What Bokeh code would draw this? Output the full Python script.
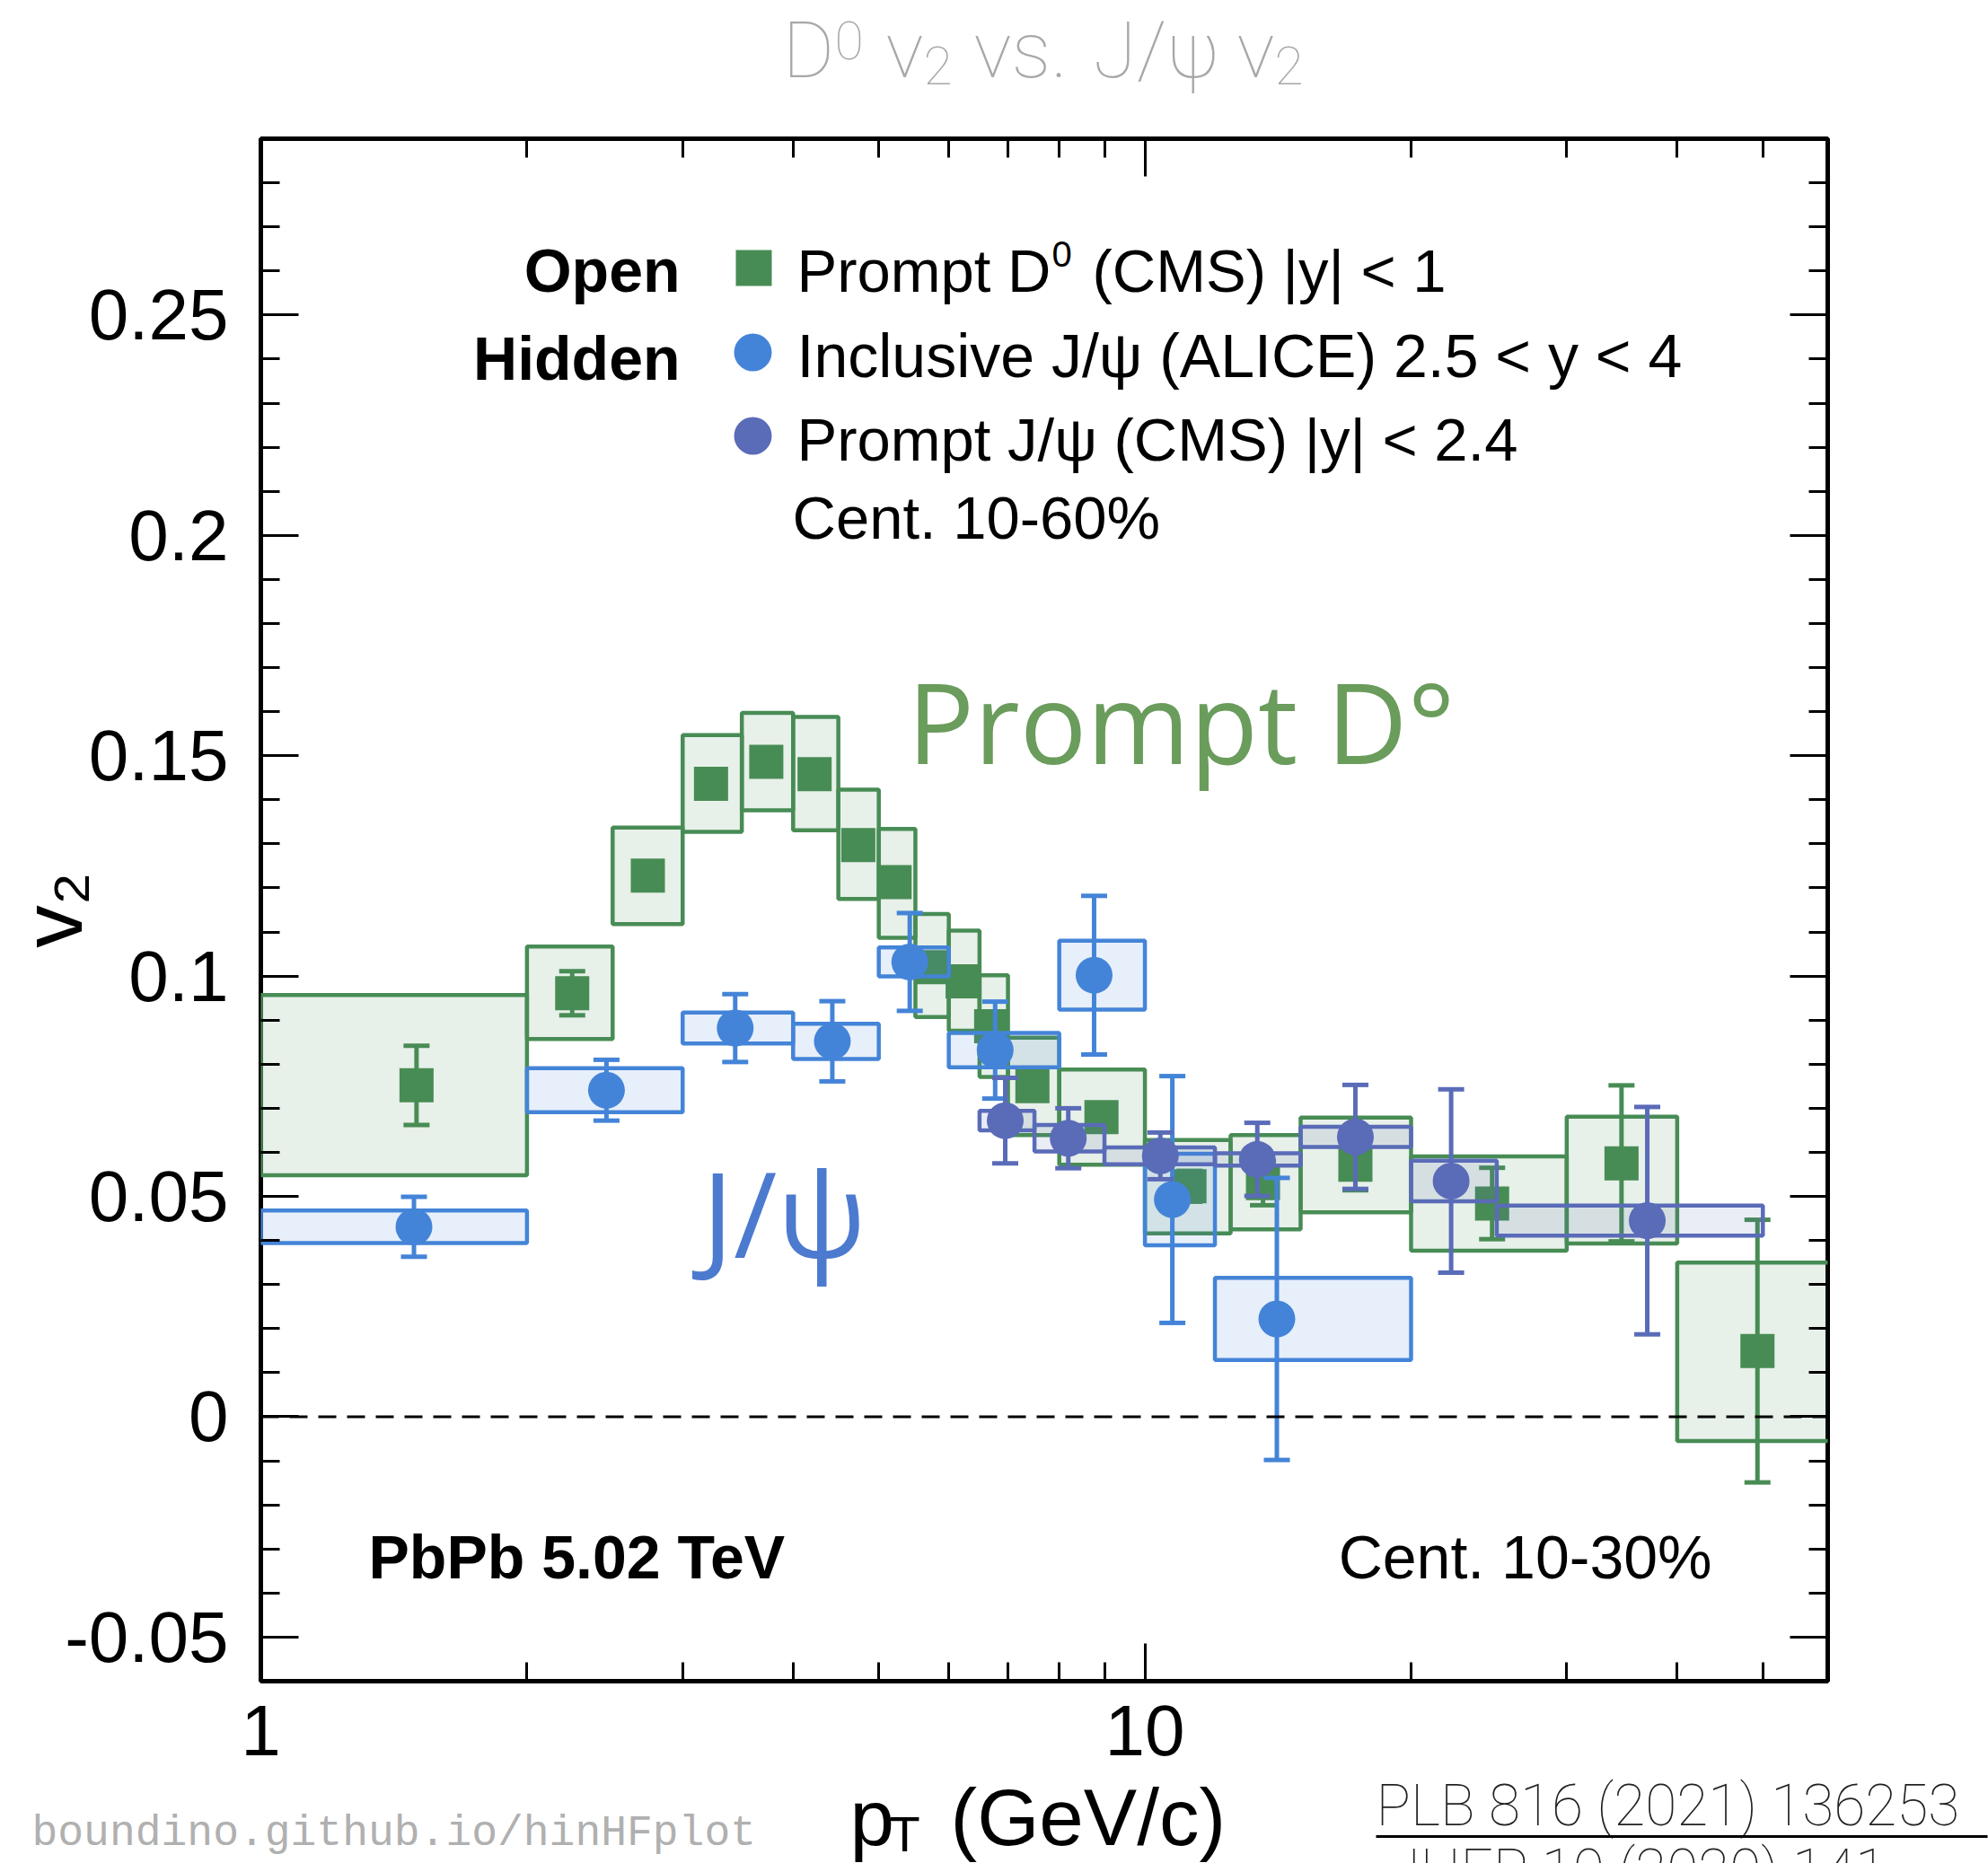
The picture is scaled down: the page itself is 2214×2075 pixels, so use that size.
import math

from bokeh.plotting import figure
from bokeh.layouts import column
from bokeh.models import (Range1d, LinearAxis, LogAxis, FixedTicker, Span, Label,
                          ColumnDataSource)
from bokeh.core.properties import value
from bokeh.embed import file_html
from bokeh.resources import INLINE

# ---------------------------------------------------------------- data
# Prompt D0 (CMS) |y| < 1, cent. 10-30%
d0_pt = [1.5, 2.25, 2.74, 3.23, 3.73, 4.23, 4.74, 5.21, 5.73, 6.22, 6.70, 7.46,
         8.93, 11.23, 13.6, 17.3, 24.7, 34.6, 49.3]
d0_lo = [1, 2, 2.5, 3, 3.5, 4, 4.5, 5, 5.5, 6, 6.5, 7, 8, 10, 12.5, 15, 20, 30, 40]
d0_hi = [2, 2.5, 3, 3.5, 4, 4.5, 5, 5.5, 6, 6.5, 7, 8, 10, 12.5, 15, 20, 30, 40, 60]
d0_v2 = [0.0752, 0.0961, 0.1228, 0.1436, 0.1486, 0.1458, 0.1297, 0.1213, 0.1020,
         0.0988, 0.0886, 0.0750, 0.0680, 0.0523, 0.0530, 0.0572, 0.0484, 0.0575, 0.0149]
d0_stat = [0.0090, 0.0050, 0.0030, 0.0030, 0.0030, 0.0030, 0.0030, 0.0030, 0.0030,
           0.0030, 0.0030, 0.0030, 0.0030, 0.0035, 0.0050, 0.0058, 0.0081, 0.0177, 0.0298]
d0_sys_up = [0.0205, 0.0106, 0.0109, 0.0111, 0.0111, 0.0130, 0.0126, 0.0121, 0.0121,
             0.0115, 0.0116, 0.0110, 0.0108, 0.0105, 0.0109, 0.0107, 0.0107, 0.0106, 0.0201]
d0_sys_dn = [0.0204, 0.0104, 0.0110, 0.0109, 0.0110, 0.0127, 0.0122, 0.0126, 0.0113,
             0.0112, 0.0115, 0.0111, 0.0108, 0.0107, 0.0105, 0.0108, 0.0107, 0.0182, 0.0204]

# Inclusive J/psi (ALICE) 2.5 < y < 4, cent. 10-30%
al_pt = [1.49, 2.46, 3.44, 4.43, 5.42, 6.77, 8.76, 10.74, 14.1]
al_lo = [1, 2, 3, 4, 5, 6, 8, 10, 12]
al_hi = [2, 3, 4, 5, 6, 8, 10, 12, 20]
al_v2 = [0.0431, 0.0741, 0.0882, 0.0852, 0.1032, 0.0832, 0.1002, 0.0493, 0.0222]
al_stat = [0.0068, 0.0069, 0.0077, 0.0091, 0.0111, 0.0110, 0.0180, 0.0280, 0.0320]
al_sys = [0.0037, 0.0050, 0.0035, 0.0040, 0.0033, 0.0039, 0.0078, 0.0104, 0.0093]

# Prompt J/psi (CMS) |y| < 2.4, cent. 10-60%
cp_pt = [6.95, 8.19, 10.41, 13.4, 17.3, 22.2, 37.0]
cp_lo = [6.5, 7.5, 9, 12, 15, 20, 25]
cp_hi = [7.5, 9, 12, 15, 20, 25, 50]
cp_v2 = [0.0672, 0.0632, 0.0592, 0.0584, 0.0635, 0.0535, 0.0445]
cp_stat = [0.0097, 0.0068, 0.0053, 0.0083, 0.0118, 0.0208, 0.0258]
cp_sys = [0.0022, 0.0030, 0.0019, 0.0014, 0.0023, 0.0046, 0.0034]

y_major = [-0.05, 0, 0.05, 0.1, 0.15, 0.2, 0.25]
y_labels = ["-0.05", "0", "0.05", "0.1", "0.15", "0.2", "0.25"]
x_major = [1, 10]
x_labels = ["1", "10"]
x_minor = [2, 3, 4, 5, 6, 7, 8, 9, 20, 30, 40, 50]

# ---------------------------------------------------------------- style
GREEN = "#488c55"
BLUE = "#4484d8"
PURPLE = "#5a6bb8"
FONT = "Liberation Sans"
THIN = "Roboto Thin"
GREY = "#a8a8a8"

W, H = 2214, 2075
HT = 120                                       # heading strip
YF = 1975                                      # top of the footer strip
HF = H - YF
FL, FR, FT, FB = 290, 2035, 154, 1872          # frame edges on the page
XMIN, XMAX = 1.0, 59.2
YMIN, YMAX = -0.06, 0.29

p = figure(width=W, height=YF - HT, x_axis_type="log",
           x_range=Range1d(XMIN, XMAX), y_range=Range1d(YMIN, YMAX),
           output_backend="svg", toolbar_location=None,
           min_border_left=FL, min_border_right=W - FR,
           min_border_top=FT - HT, min_border_bottom=YF - FB,
           background_fill_color="white", border_fill_color="white",
           outline_line_color="black", outline_line_width=5)
p.frame_align = False
p.grid.visible = False

y_minor = [round(YMIN + 0.01 * i, 2) for i in range(int(round((YMAX - YMIN) / 0.01)) + 1)]


def style_axis(ax, show_labels):
    ax.axis_line_color = None
    ax.major_tick_in = 42
    ax.major_tick_out = 0
    ax.minor_tick_in = 21
    ax.minor_tick_out = 0
    ax.major_tick_line_width = 3
    ax.minor_tick_line_width = 3
    ax.major_tick_line_color = "black"
    ax.minor_tick_line_color = "black"
    if show_labels:
        ax.major_label_text_font = FONT
        ax.major_label_text_font_size = "80px"
        ax.major_label_text_color = "black"
    else:
        ax.major_label_text_font_size = "2px"
        ax.major_label_text_alpha = 0
        ax.major_label_standoff = 0


yticker = FixedTicker(ticks=y_major, minor_ticks=y_minor)
xticker = FixedTicker(ticks=x_major, minor_ticks=x_minor)

left = p.yaxis[0]
left.ticker = yticker
left.major_label_overrides = dict(zip(y_major, y_labels))
style_axis(left, True)
left.major_label_standoff = 36
left.axis_label = "v\u2082"
left.axis_label_text_font = FONT
left.axis_label_text_font_size = "95px"
left.axis_label_text_font_style = "normal"
left.axis_label_text_color = "black"
left.axis_label_standoff = -42

bottom = p.xaxis[0]
bottom.ticker = xticker
bottom.major_label_overrides = dict(zip(x_major, x_labels))
style_axis(bottom, True)
bottom.major_label_standoff = 27

right = LinearAxis(ticker=yticker)
style_axis(right, False)
p.add_layout(right, "right")

top = LogAxis(ticker=xticker)
style_axis(top, False)
p.add_layout(top, "above")


# ---------------------------------------------------------------- series
def draw_series(pt, lo, hi, v2, stat, sys_up, sys_dn, color, marker, size):
    box = ColumnDataSource(dict(
        left=lo, right=hi,
        top=[v + s for v, s in zip(v2, sys_up)],
        bottom=[v - s for v, s in zip(v2, sys_dn)]))
    p.quad(left="left", right="right", top="top", bottom="bottom", source=box,
           fill_color=color, fill_alpha=0.13, line_color=color, line_width=4.5)
    bars = ColumnDataSource(dict(
        x=pt, y0=[v - s for v, s in zip(v2, stat)], y1=[v + s for v, s in zip(v2, stat)]))
    p.segment(x0="x", y0="y0", x1="x", y1="y1", source=bars,
              line_color=color, line_width=5)
    p.scatter(x="x", y="y0", source=bars, marker="dash", size=29,
              line_color=color, line_width=5)
    p.scatter(x="x", y="y1", source=bars, marker="dash", size=29,
              line_color=color, line_width=5)
    p.scatter(x=pt, y=v2, marker=marker, size=size,
              fill_color=color, line_color=None)


draw_series(d0_pt, d0_lo, d0_hi, d0_v2, d0_stat, d0_sys_up, d0_sys_dn, GREEN, "square", 38)
draw_series(al_pt, al_lo, al_hi, al_v2, al_stat, al_sys, al_sys, BLUE, "circle", 41)
draw_series(cp_pt, cp_lo, cp_hi, cp_v2, cp_stat, cp_sys, cp_sys, PURPLE, "circle", 41)

p.add_layout(Span(location=0, dimension="width", line_color="black",
                  line_width=3, line_dash="20 12"))


# ---------------------------------------------------------------- texts in the frame
def lx(px):
    a, b = math.log10(XMIN), math.log10(XMAX)
    return 10 ** (a + (px - FL) / (FR - FL) * (b - a))


def ly(py):
    return YMAX - (py - FT) / (FB - FT) * (YMAX - YMIN)


def mid(base, size):
    """vertical centre of capitals sitting on a given baseline"""
    return base - 0.355 * size


def label(text, px, base, size, color="black", font=FONT, style="normal", align="left"):
    p.add_layout(Label(x=lx(px), y=ly(mid(base, size)), text=text, text_font=font,
                       text_font_size=f"{size}px", text_color=color,
                       text_font_style=style, text_align=align,
                       text_baseline="middle"))


# legend block
p.scatter(x=[lx(839)], y=[ly(298)], marker="square", size=40, fill_color=GREEN, line_color=None)
p.scatter(x=[lx(838)], y=[ly(392)], marker="circle", size=42, fill_color=BLUE, line_color=None)
p.scatter(x=[lx(838)], y=[ly(485)], marker="circle", size=42, fill_color=PURPLE, line_color=None)

label("Open", 757, 325, 68, style="bold", align="right")
label("Hidden", 757, 423, 68, style="bold", align="right")
label("Prompt D", 887, 325, 67)
label("0", 1171, 297, 40)
label("(CMS) |y| < 1", 1216, 325, 67)
label("Inclusive J/\u03c8 (ALICE) 2.5 < y < 4", 887, 420, 68)
label("Prompt J/\u03c8 (CMS) |y| < 2.4", 887, 513, 67)
label("Cent. 10-60%", 882, 600, 67)

label("PbPb 5.02 TeV", 410, 1758, 68, style="bold")
label("Cent. 10-30%", 1906, 1758, 68, align="right")

# handwritten-style annotations
label("Prompt D\u00b0", 1010, 846, 124, color="#6a9c5c", font="Open Sans")
label("J/\u03c8", 781, 1396, 132, color="#4c7acf", font="Open Sans")


# ---------------------------------------------------------------- heading and footer strips
def strip(height):
    f = figure(width=W, height=height, x_range=Range1d(0, W), y_range=Range1d(height, 0),
               x_axis_type=None, y_axis_type=None, toolbar_location=None,
               output_backend="svg", min_border=0, outline_line_color=None,
               background_fill_color="white", border_fill_color="white")
    f.frame_align = False
    f.grid.visible = False
    return f


def put(f, y0, text, px, base, size, color="black", font=FONT, align="left"):
    f.text(x=[px], y=[mid(base, size) - y0], text=[text], text_font=value(font),
           text_font_size=value(f"{size}px"), text_color=color,
           text_align=align, text_baseline="middle")


head = strip(HT)
put(head, 0, "D", 871, 86, 88, GREY, THIN)
put(head, 0, "0", 929, 65, 59, GREY, THIN)
put(head, 0, "v", 986, 86, 88, GREY, THIN)
put(head, 0, "2", 1028, 93, 59, GREY, THIN)
put(head, 0, "vs.", 1084, 86, 88, GREY, THIN)
put(head, 0, "J/\u03c8", 1217, 86, 88, GREY, THIN)
put(head, 0, "v", 1377, 86, 88, GREY, THIN)
put(head, 0, "2", 1419, 93, 59, GREY, THIN)

foot = strip(HF)
put(foot, YF, "p", 946, 2055, 89)
put(foot, YF, "T", 990, 2062, 56)
put(foot, YF, "(GeV/c)", 1058, 2055, 89)
put(foot, YF, "boundino.github.io/hinHFplot", 35, 2059, 48, "#b0b0b0", "Liberation Mono")
put(foot, YF, "PLB 816 (2021) 136253", 1532, 2034, 64, "#222222", THIN)
put(foot, YF, "JHEP 10 (2020) 141", 1546, 2106, 64, "#222222", THIN)
foot.segment(x0=[1532], y0=[2045 - YF], x1=[2213], y1=[2045 - YF],
             line_color="black", line_width=3)

layout = column(head, p, foot, spacing=0)
out = file_html(layout, INLINE)
open("out.html", "w").write(out)
